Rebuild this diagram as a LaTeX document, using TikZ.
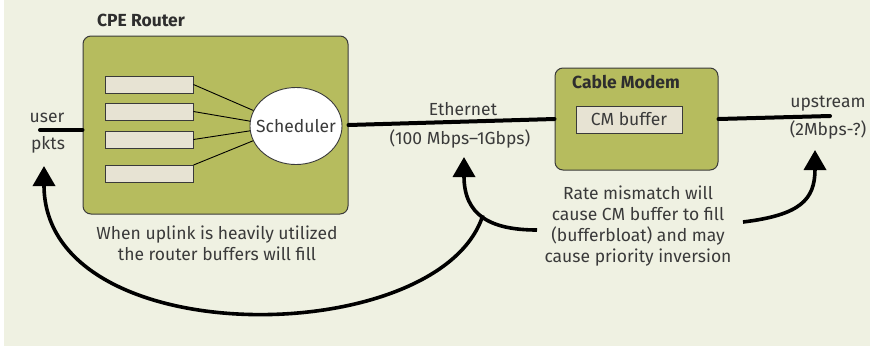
\documentclass[tikz,border=0pt]{standalone}
\usepackage{fontspec}
\setmainfont{Fira Sans}
\usetikzlibrary{shapes,arrows.meta}
\definecolor{bgcol}{HTML}{EFF1E2}
\definecolor{olive}{HTML}{B6BC5E}
\definecolor{queuecol}{HTML}{E7E3D3}
\definecolor{inkcol}{HTML}{3A3A3A}
\tikzstyle{box} = [rectangle, draw=inkcol, line width=1pt, fill=olive, rounded corners=8pt]
\tikzstyle{queue} = [rectangle, draw=inkcol, line width=0.9pt, fill=queuecol, minimum width=88pt, minimum height=17pt, inner sep=0pt]
\tikzstyle{heading} = [font=\fontsize{17.5}{20}\selectfont\bfseries, text=inkcol!80!black]
\tikzstyle{note} = [font=\fontsize{17.5}{21}\selectfont, text=inkcol, align=center, inner sep=0pt]
\tikzstyle{link} = [draw=black, line width=4pt, line cap=round]
\tikzstyle{wire} = [draw=black, line width=0.9pt]
\tikzstyle{loopback} = [draw=black, line width=3.6pt, -{Triangle[width=22pt,length=20pt]}]

\begin{document}
\begin{tikzpicture}[x=1pt, y=-1pt]
  \fill [white] (0,0) rectangle (870,346);
  \fill [bgcol] (4,0) rectangle (870,346);

  \node [box, minimum width=265pt, minimum height=178pt] (router) at (215.5,125) {};
  \node [heading] (router_lbl) at (141,20) {CPE Router};
  \foreach \y [count=\i] in {84.5,111.5,139.5,174}
    \node [queue] (q\i) at (149,\y) {};
  \node [ellipse, draw=inkcol, line width=0.9pt, fill=white, minimum width=92pt, minimum height=77pt, inner sep=0pt] (sched) at (296,126) {};
  \node [note] (sched_lbl) at (sched.center) {Scheduler};
  \foreach \i/\a in {1/160,2/174,3/186}
    \path [wire] (q\i.east) -- (sched.\a);
  \path [wire] (q4.north east) -- (sched.199);

  \node [box, minimum width=163pt, minimum height=102pt] (modem) at (636.5,119) {};
  \node [heading] (modem_lbl) at (626,82) {Cable Modem};
  \node [rectangle, draw=inkcol, fill=queuecol, line width=0.9pt, minimum width=106pt, minimum height=27pt, note] (cm_buf) at (629,119.5) {CM buffer};

  \coordinate (user_in) at (40,130);
  \coordinate (up_out) at (830,116);
  \path [link] (user_in) -- (user_in -| router.west);
  \path [link] (router.east) -- (modem.west);
  \path [link] (modem.east) -- (up_out);

  \node [note] (user_lbl) at (47,118) {user};
  \node [note] (pkts_lbl) at (48,145) {pkts};
  \node [note] (eth_lbl) at (463,109) {Ethernet};
  \node [note] (eth_rate) at (460,139) {(100 Mbps–1Gbps)};
  \node [note] (up_lbl) at (828,104) {upstream};
  \node [note] (up_rate) at (828,130) {(2Mbps-?)};
  \node [note] (router_note) at (217,243) {When uplink is heavily utilized\\the router buffers will fill};
  \node [note] (rate_note) at (638,226) {Rate mismatch will\\cause CM buffer to fill\\(bufferbloat) and may\\cause priority inversion};

  \coordinate (user_tip) at (44,166);
  \coordinate (eth_tip) at (464,157);
  \coordinate (up_tip) at (815,150);
  \coordinate (rate_l) at (537,230);
  \coordinate (rate_r) at (743,222);
  \path [loopback] (rate_l) .. controls (490,230) and (464,215) .. coordinate[pos=0.5] (fork) (eth_tip);
  \path [loopback] (fork) .. controls (440,350) and (44,355) .. (user_tip);
  \path [loopback] (rate_r) .. controls (800,215) and (815,200) .. (up_tip);
\end{tikzpicture}
\end{document}
